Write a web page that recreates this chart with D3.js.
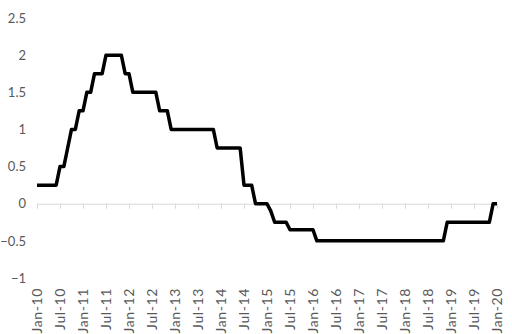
<!DOCTYPE html>
<html>
<head>
<meta charset="utf-8">
<script src="https://cdn.jsdelivr.net/npm/d3@7"></script>
<style>
  body { margin: 0; background: #fff; }
  svg { display: block; font-family: Lato, "Open Sans", sans-serif; }
</style>
</head>
<body>
<div id="chart"></div>
<script>
// Monthly values, Jan-10 .. Jan-20
const rates2010 = [0.25, 0.25, 0.25, 0.25, 0.25, 0.25, 0.5, 0.5, 0.75, 1, 1, 1.25];
const rates2011 = [1.25, 1.5, 1.5, 1.75, 1.75, 1.75, 2, 2, 2, 2, 2, 1.75];
const rates2012 = [1.75, 1.5, 1.5, 1.5, 1.5, 1.5, 1.5, 1.5, 1.25, 1.25, 1.25, 1];
const rates2013 = [1, 1, 1, 1, 1, 1, 1, 1, 1, 1, 1, 0.75];
const rates2014 = [0.75, 0.75, 0.75, 0.75, 0.75, 0.75, 0.25, 0.25, 0.25, 0, 0, 0];
const rates2015 = [0, -0.1, -0.25, -0.25, -0.25, -0.25, -0.35, -0.35, -0.35, -0.35, -0.35, -0.35];
const rates2016 = [-0.35, -0.5, -0.5, -0.5, -0.5, -0.5, -0.5, -0.5, -0.5, -0.5, -0.5, -0.5];
const rates2017 = [-0.5, -0.5, -0.5, -0.5, -0.5, -0.5, -0.5, -0.5, -0.5, -0.5, -0.5, -0.5];
const rates2018 = [-0.5, -0.5, -0.5, -0.5, -0.5, -0.5, -0.5, -0.5, -0.5, -0.5, -0.5, -0.25];
const rates2019 = [-0.25, -0.25, -0.25, -0.25, -0.25, -0.25, -0.25, -0.25, -0.25, -0.25, -0.25, 0];
const rates2020 = [0];

const xLabels = ["Jan-10", "Jul-10", "Jan-11", "Jul-11", "Jan-12", "Jul-12", "Jan-13", "Jul-13",
  "Jan-14", "Jul-14", "Jan-15", "Jul-15", "Jan-16", "Jul-16", "Jan-17", "Jul-17",
  "Jan-18", "Jul-18", "Jan-19", "Jul-19", "Jan-20"];
const yTicks = [-1, -0.5, 0, 0.5, 1, 1.5, 2, 2.5];

const values = [].concat(rates2010, rates2011, rates2012, rates2013, rates2014, rates2015,
  rates2016, rates2017, rates2018, rates2019, rates2020);
const months = values.map((v, i) => i);

const width = 512, height = 334;

const svg = d3.select("#chart")
  .append("svg")
  .attr("width", width)
  .attr("height", height);

const x = d3.scalePoint()
  .domain(months)
  .range([37, 497]);

const y = d3.scaleLinear()
  .domain([-1, 2.5])
  .range([278, 18]);

// y labels
const yAxis = svg.append("g")
  .attr("transform", "translate(27,0)")
  .call(d3.axisLeft(y).tickValues(yTicks).tickSize(0).tickPadding(1)
    .tickFormat(d => d3.format("")(d)));
yAxis.select(".domain").remove();
yAxis.selectAll("text")
  .style("font-size", "13px")
  .style("fill", "#595959")
  .style("font-family", "Lato, sans-serif");

// zero axis with tick marks
const tickMonths = xLabels.map((d, i) => i * 6);
const zeroAxis = svg.append("g")
  .attr("transform", `translate(0,${y(0)})`)
  .call(d3.axisBottom(x).tickValues(tickMonths).tickSize(5).tickSizeOuter(0).tickFormat(""));
zeroAxis.select(".domain").attr("stroke", "#d9d9d9");
zeroAxis.selectAll(".tick line").attr("stroke", "#d9d9d9");

// bottom labels
const labelAxis = svg.append("g")
  .attr("transform", "translate(0,284)")
  .call(d3.axisBottom(x).tickValues(tickMonths).tickSize(0)
    .tickFormat((d, i) => xLabels[i]));
labelAxis.select(".domain").remove();
labelAxis.selectAll("text")
  .attr("transform", "rotate(-90)")
  .attr("text-anchor", "end")
  .attr("dy", "0.35em")
  .attr("x", -4)
  .attr("y", 0)
  .style("font-size", "14px")
  .style("letter-spacing", "0.6px")
  .style("fill", "#595959")
  .style("font-family", "Lato, sans-serif");

// rate line
const line = d3.line()
  .x((d, i) => x(months[i]))
  .y(d => y(d));

svg.append("path")
  .datum(values)
  .attr("fill", "none")
  .attr("stroke", "#000")
  .attr("stroke-width", 3.5)
  .attr("stroke-linejoin", "round")
  .attr("d", line);
</script>
</body>
</html>
